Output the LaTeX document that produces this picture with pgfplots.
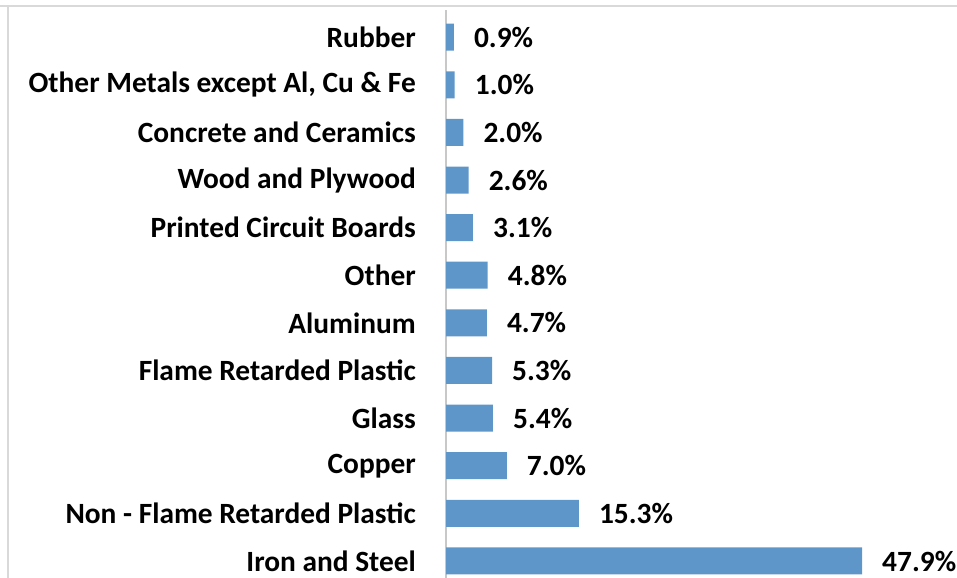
\documentclass[border=0pt]{standalone}
\usepackage{pgfplots}
\pgfplotsset{compat=1.18}
\usepackage{fontspec}
\setmainfont{Carlito}
\definecolor{barblue}{RGB}{95,150,202}
\definecolor{axgray}{RGB}{200,200,200}
\definecolor{framegray}{RGB}{217,217,217}
\begin{document}
\begin{tikzpicture}[x=1bp,y=1bp]
\useasboundingbox (0,0) rectangle (957,578);
% chart frame remnants
\draw[framegray, line width=1.3bp] (0,572) -- (957,572);
\draw[framegray, line width=1.3bp] (8,572) -- (8,0);
\begin{axis}[
  at={(446bp,0bp)}, anchor=south west,
  scale only axis, width=511bp, height=568bp,
  xbar, bar width=27bp,
  xmin=0, xmax=58.84,
  ymin=-0.357, ymax=11.57,
  hide x axis,
  axis y line*=left,
  y axis line style={axgray, line width=1.3bp, -},
  ytick=data,
  yticklabels={Iron and Steel, Non - Flame Retarded Plastic, Copper, Glass,
    Flame Retarded Plastic, Aluminum, Other, Printed Circuit Boards,
    Wood and Plywood, Concrete and Ceramics, {Other Metals except Al, Cu \& Fe}, Rubber},
  major tick length=0pt,
  yticklabel style={font=\fontsize{29.5}{34}\selectfont\bfseries, anchor=east, inner sep=0pt, xshift=-30bp},
  nodes near coords={\pgfmathprintnumber[fixed,fixed zerofill,precision=1,assume math mode=true]{\pgfplotspointmeta}\%},
  point meta=x,
  nodes near coords style={font=\fontsize{29.5}{34}\selectfont\bfseries, anchor=west, inner sep=0pt, xshift=20bp, black},
  clip=false,
]
\addplot[fill=barblue, draw=none] coordinates {
  (47.9,0) (15.3,1) (7.0,2) (5.4,3) (5.3,4) (4.7,5)
  (4.8,6) (3.1,7) (2.6,8) (2.0,9) (1.0,10) (0.9,11)
};
\end{axis}
\end{tikzpicture}
\end{document}
